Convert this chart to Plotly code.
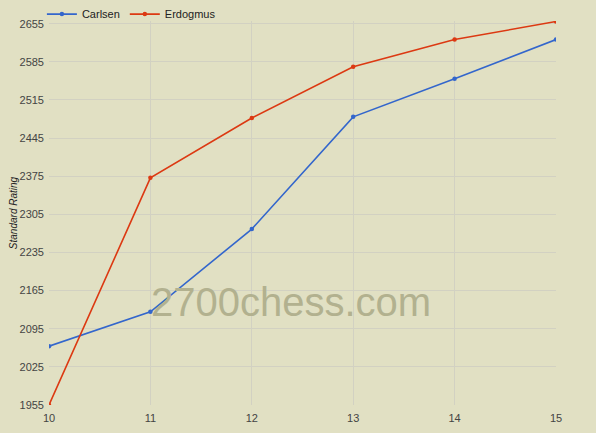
import plotly.graph_objects as go

ages = [10, 11, 12, 13, 14, 15]
carlsen = [2063, 2126, 2278, 2484, 2554, 2626]
erdogmus = [1955, 2372, 2482, 2576, 2626, 2659]
y_ticks = [1955, 2025, 2095, 2165, 2235, 2305, 2375, 2445, 2515, 2585, 2655]

fig = go.Figure()
fig.add_trace(go.Scatter(x=ages, y=carlsen, name="Carlsen", mode="lines+markers",
                         line=dict(color="#3366CC", width=1.6), marker=dict(size=4.5, color="#3366CC")))
fig.add_trace(go.Scatter(x=ages, y=erdogmus, name="Erdogmus", mode="lines+markers",
                         line=dict(color="#DC3912", width=1.6), marker=dict(size=4.5, color="#DC3912")))

fig.add_annotation(text="2700chess.com", x=0.477, y=0.268, xref="paper", yref="paper",
                   xanchor="center", yanchor="middle",
                   showarrow=False, font=dict(family="Liberation Sans, Arial", size=40, color="#B2B18F"))

fig.update_layout(
    width=596, height=433,
    paper_bgcolor="#E1E0C3", plot_bgcolor="#E1E0C3",
    margin=dict(l=49, r=40, t=21, b=28, autoexpand=False),
    font=dict(family="Liberation Sans, Arial", size=11, color="#444444"),
    showlegend=True,
    legend=dict(orientation="h", x=-0.014, y=1.018, xanchor="left", yanchor="middle",
                font=dict(size=11, color="#222222"), bgcolor="rgba(0,0,0,0)",
                itemwidth=30, tracegroupgap=0),
    xaxis=dict(range=[10, 15], tickvals=ages, showgrid=True, gridcolor="#D2D1C2", zeroline=False,
               showline=False, ticks="", tickfont=dict(size=11, color="#444444"), automargin=False,
               ticklabelstandoff=5),
    yaxis=dict(range=[1955, 2660], tickvals=y_ticks, showgrid=True, gridcolor="#D2D1C2", zeroline=False,
               showline=False, ticks="", tickfont=dict(size=11, color="#444444"), automargin=False,
               ticklabelstandoff=4,
               title=dict(text="<i>Standard Rating</i>", font=dict(size=10, color="#222222"), standoff=0)),
)
fig.write_html("out.html", config={"displayModeBar": False},
               post_script="document.body.style.margin='0';document.body.style.background='#E1E0C3';")
